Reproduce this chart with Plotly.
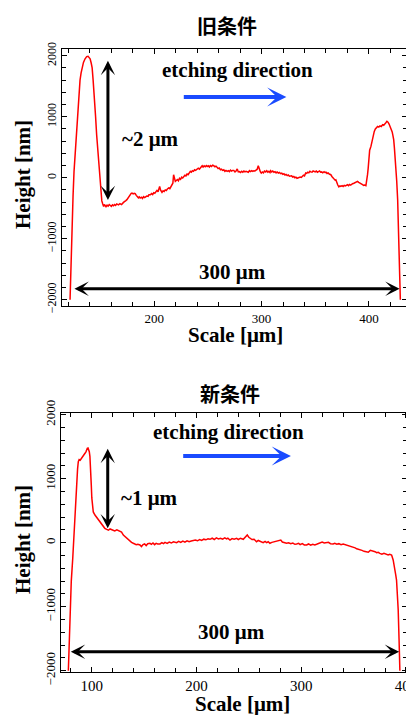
import plotly.graph_objects as go

# ---------------- data ----------------
old_x = [121.5, 122.2, 122.9, 123.4, 124.3, 125.2, 126.2, 127.1, 128.5, 129.4, 130.8, 131.8, 132.7, 134, 135.5, 137, 138.3,
         139.3, 140.2, 141.2, 142.1, 143, 144.4, 145.3, 146.3, 147.1, 147.9, 148.7, 149.5, 150.3, 151.1, 152, 152.8, 153.5,
         154.2, 155, 156, 157, 158, 158.9, 160, 161, 162, 163, 164, 165, 166.6, 168, 169.5, 171.3, 172.5, 173.5, 174.5,
         175.5, 176.5, 177.5, 178.5, 179.2, 180.3, 181.2, 182.2, 183.2, 184.2, 185.2, 186, 186.9, 188, 189, 190, 191,
         191.6, 193, 194.2, 195, 196.3, 197.5, 198.5, 199.5, 200.5, 201.5, 202.5, 203.5, 204.3, 205, 205.8, 206.5, 207.2,
         208.2, 209.2, 210.2, 211.2, 212.2, 213.4, 214.5, 215.5, 216.5, 217.3, 218, 218.8, 219.6, 220.5, 221.5, 222.5,
         223.5, 224.5, 225.5, 226.5, 227.4, 228.5, 229.5, 230.5, 231.5, 232.5, 233.6, 234.5, 235.5, 236.5, 237.5, 238.5,
         239.9, 241, 242, 243, 244, 244.6, 245.5, 246.5, 247.5, 248.5, 249.3, 250.3, 251.3, 252.3, 253.3, 254.4, 255.4,
         256.5, 257.5, 258.5, 259.5, 260.5, 261.7, 262.7, 263.7, 264.8, 265.8, 266.8, 267.9, 269, 270, 271, 272, 273,
         274.1, 275.2, 276.2, 277.3, 278.3, 279.3, 280.3, 281.5, 282.5, 283.5, 284.5, 285.5, 286.6, 287.6, 288.7, 289.7,
         290.8, 291.8, 292.8, 293.8, 294.8, 295.8, 296.9, 297.9, 298.9, 299.7, 300.7, 301.7, 302.7, 303.8, 304.8, 305.8,
         306.8, 307.8, 308.4, 309.4, 310.4, 311.5, 312.5, 313.5, 314.5, 315.6, 316.6, 317.8, 318.8, 319.8, 320.8, 321.8,
         322.8, 323.9, 324.9, 325.9, 327.1, 328, 329, 330, 331, 332, 333, 334, 334.9, 336, 337, 338, 339, 340, 341.1,
         342, 343, 344, 345, 346, 347, 348, 348.9, 350, 351, 352, 353, 354, 355, 356, 357, 358.2, 359, 360, 361, 362,
         363, 364.5, 365.5, 366.5, 367.5, 368.5, 369.2, 370.2, 371, 372, 373, 373.8, 375, 376, 377, 378, 379, 380.1,
         381, 382, 383, 384, 384.8, 386, 387, 388, 389.4, 390.5, 391.5, 392.5, 393.5, 394.1, 395, 396, 397.2, 398,
         398.7, 399.3, 400, 400.7, 401.9, 403, 404, 405, 406, 407, 408.1, 409.2, 410.3, 411.5, 412.8, 413.8, 414.8,
         415.8, 416.8, 417.8, 418.8, 419.9, 420.9, 421.7, 422.4, 423.1, 423.8, 424.5, 425.2, 425.9, 426.8, 427.4, 428,
         428.6, 429.3]
old_y = [-2000, -1500, -1000, -800, -300, 100, 400, 600, 1000, 1300, 1600, 1720, 1800, 1890, 1950, 1985, 1990,
         1975, 1950, 1880, 1800, 1600, 1300, 1000, 700, 500, 300, 100, -100, -250, -380, -430, -470, -440,
         -460, -475, -450, -465, -440, -455, -470, -445, -460, -440, -455, -430, -445, -425, -440, -405, -395, -375, -360,
         -330, -300, -280, -255, -251, -265, -255, -262, -290, -310, -330, -315, -333, -320, -340, -310, -325,
         -317, -300, -305, -280, -279, -260, -275, -245, -255, -225, -208, -230, -180, -142, -200, -225, -240,
         -215, -225, -200, -210, -185, -169, -180, -150, -130, -90, 49, -40, -60, -45, -30, -50,
         -10, -25, 10, -5, 21, 40, 30, 60, 50, 85, 103, 90, 115, 105, 130, 120,
         143, 155, 140, 170, 185, 197, 175, 195, 180, 200, 185, 195, 175, 200, 185, 205, 197,
         180, 190, 165, 150, 160, 131, 140, 120, 130, 105, 120, 103, 115, 100, 125, 110, 120,
         120, 95, 110, 143, 95, 100, 85, 105, 90, 110, 95, 105, 103, 90, 115, 100,
         115, 105, 115, 110, 125, 135, 197, 120, 95, 77, 95, 80, 110, 95, 115, 90,
         105, 85, 115, 95, 110, 90, 100, 80, 95, 75, 85, 66, 75, 55, 65, 45,
         55, 35, 45, 25, 21, 30, 10, 20, 0, 10, -10, 0, -5, 10, 5, 25, 40, 30, 77,
         70, 90, 80, 105, 95, 90, 110, 103, 95, 110, 90, 100, 110, 90, 95, 80, 98, 85, 90, 70, 80,
         60, 49, 20, 0, -20, -40, -33, -90, -120, -150, -135, -142, -130, -145, -125, -135, -120, -115,
         -130, -110, -120, -100, -98, -90, -80, -70, -60, -75, -90, -100, -110, -115, -125, -120, -131, -60,
         50, 150, 330, 450, 513, 620, 700, 759, 800, 820, 841, 830, 850, 840, 869, 860, 890,
         900, 923, 910, 880, 841, 800, 750, 690, 623, 480, 320, 131, -50, -361, -700, -1000,
         -1400, -2000]

new_x = [77.7, 78.5, 79.3, 80.5, 81.9, 83, 84.1, 85, 85.7, 86.5, 87.2, 88, 89, 90.5, 91.5, 92.5, 93.6, 94.5, 95.2,
         95.8, 96.5, 97.2, 97.7, 98.3, 99, 99.6, 100.1, 100.6, 101.5, 103.1, 104.5, 106.3, 108, 109.5, 111, 112.5,
         114.3, 116, 117.5, 119, 120.6, 122, 124, 125.5, 127, 128.5, 130.2, 131.8, 133.4, 135, 136.5, 138, 139.7,
         141, 142.5, 144, 146.1, 147.5, 149, 150.5, 152, 153.5, 155.6, 157, 158.5, 160, 161.5, 163, 165.2, 167,
         168.5, 170, 172, 174, 176, 178, 180, 181.1, 183, 185, 187, 189, 191, 193, 195, 196.9, 199, 201, 203, 205,
         207, 209, 211, 212.9, 215, 217, 219, 221, 223, 225, 227, 228.8, 230, 232, 234, 236, 238.4, 240, 242,
         244.7, 246.5, 248.5, 250, 251, 253, 255, 257.4, 259, 261, 263.7, 265.5, 267, 268.5, 270.1, 272, 274, 276,
         278, 279, 280.5, 282, 284, 286, 288, 290, 292, 294, 295.6, 297.5, 299, 301, 303, 305.2, 307, 309, 311,
         313, 314.7, 316.5, 318.5, 320, 322, 324.2, 326, 328, 330.5, 332, 334, 336, 338, 340.1, 342, 344, 346, 348,
         349.6, 351.5, 353, 354.5, 356, 358, 360, 362.4, 364, 366, 368.7, 370.5, 372, 373.5, 375.1, 377, 379,
         381.5, 383, 384.5, 386.3, 387.8, 388.7, 389.4, 390.2, 391, 391.8, 392.6, 393.4, 394.2]
new_y = [-2000, -1500, -1000, -600, -244, 150, 459, 750, 980, 1150, 1266, 1300, 1290, 1319, 1340, 1370, 1397, 1420, 1460,
         1475, 1480, 1455, 1422, 1350, 1188, 900, 700, 563, 480, 433, 400, 355, 320, 277, 250, 225,
         209, 195, 215, 205, 198, 185, 200, 190, 183, 165, 120, 95, 69, 40, 25, 5, -9,
         -20, -30, -25, -36, -60, -30, -20, -45, -15, -9, -25, -5, -30, -10, -20, -20, 0,
         -15, 5, -10, 10, -5, 15, 0, 0, 20, 5, 25, 10, 30, 15, 25, 27, 40, 30, 50, 35,
         55, 45, 60, 53, 70, 50, 75, 60, 70, 55, 75, 58, 70, 42, 65, 55, 69, 50, 70,
         53, 80, 120, 85, 69, 50, 55, 16, 35, 15, 0, 20, 0, 15, -9, 5, 15, 20,
         30, 31, 40, 10, 5, -9, 0, -15, -5, -25, -20, -10, -30, -15, -35, -36, -20, -40, -25,
         -35, -25, -10, 0, 10, -5, 0, 5, -15, -20, -10, -25, -15, -30, -20, -30, -35, -40, -55,
         -63, -80, -95, -100, -114, -120, -135, -141, -150, -120, -125, -140, -155, -150, -166, -180, -165,
         -177, -190, -180, -192, -270, -340, -427, -500, -583, -800, -1050, -1500, -2000]

titles = ["旧条件", "新条件"]
x_title = "Scale [μm]"
y_title = "Height [nm]"
step_labels = ["~2 μm", "~1 μm"]
width_label = "300 μm"
dir_label = "etching direction"

# ---------------- layout helpers ----------------
W, H = 414, 715
PAGE_OFFSET = 8  # the page body margin shifts the figure by this much on screen


def px(sx):
    """screen x pixel -> paper fraction"""
    return (sx - PAGE_OFFSET) / W


def py(sy):
    """screen y pixel -> paper fraction"""
    return 1 - (sy - PAGE_OFFSET) / H


RED = "#FF0000"
BLUE = "#1A4BFF"
SERIF = "Liberation Serif"

fig = go.Figure()
fig.add_trace(go.Scatter(x=old_x, y=old_y, mode="lines", line=dict(color=RED, width=1.5),
                         xaxis="x", yaxis="y", showlegend=False, hoverinfo="skip"))
fig.add_trace(go.Scatter(x=new_x, y=new_y, mode="lines", line=dict(color=RED, width=1.5),
                         xaxis="x2", yaxis="y2", showlegend=False, hoverinfo="skip"))


def axis_common(size):
    return dict(showline=True, linecolor="black", linewidth=1, mirror="allticks",
                ticks="inside", ticklen=5, tickwidth=1, tickcolor="black",
                showgrid=False, zeroline=False, automargin=False,
                tickfont=dict(family=SERIF, size=size, color="black"))


xa = axis_common(13)
xa.update(domain=[px(62), px(407)], range=[114, 435.5], tick0=0, dtick=100, anchor="y",
          minor=dict(dtick=20, ticks="inside", ticklen=4, tickcolor="black", showgrid=False))
ya = axis_common(12)
ya.update(domain=[py(306), py(49)], range=[-2103, 2110], tick0=0, dtick=1000, anchor="x", tickangle=-90,
          minor=dict(dtick=200, ticks="inside", ticklen=4, tickcolor="black", showgrid=False))
xa2 = axis_common(15)
xa2.update(domain=[px(60.7), px(407)], range=[70.4, 401], tick0=0, dtick=100, anchor="y2",
           minor=dict(dtick=20, ticks="inside", ticklen=4, tickcolor="black", showgrid=False))
ya2 = axis_common(13)
ya2.update(domain=[py(672.3), py(413.3)], range=[-2025, 2022], tick0=0, dtick=1000, anchor="x2", tickangle=-90,
           minor=dict(dtick=200, ticks="inside", ticklen=4, tickcolor="black", showgrid=False))

ann = []
bold = dict(family=SERIF, size=21, color="black")
cjk = dict(family="Noto Sans CJK JP", size=20, color="black")


def ptext(sx, sy, text, font, angle=0):
    return dict(xref="paper", yref="paper", x=px(sx), y=py(sy), xanchor="center", yanchor="middle",
                text=text, showarrow=False, font=font, textangle=angle)


def dtext(xr, yr, x, y, text):
    return dict(xref=xr, yref=yr, x=x, y=y, xanchor="center", yanchor="middle",
                text="<b>%s</b>" % text, showarrow=False, font=bold)


def arrow(xr, yr, x0, y0, x1, y1, color, width, double):
    d = dict(xref=xr, yref=yr, axref=xr, ayref=yr, x=x1, y=y1, ax=x0, ay=y0, text="",
             showarrow=True, arrowhead=3, arrowsize=0.8, arrowwidth=width, arrowcolor=color)
    if double:
        d.update(startarrowhead=3, startarrowsize=0.8, arrowside="end+start")
    return d


# titles & axis titles
ann.append(ptext(227, 25, "<b>%s</b>" % titles[0], cjk))
ann.append(ptext(230, 393, "<b>%s</b>" % titles[1], cjk))
ann.append(ptext(235, 335, "<b>%s</b>" % x_title, bold))
ann.append(ptext(242.5, 704, "<b>%s</b>" % x_title, bold))
ann.append(ptext(23, 175, "<b>%s</b>" % y_title, bold, -90))
ann.append(ptext(23, 540, "<b>%s</b>" % y_title, bold, -90))

# top panel annotations (data coordinates)
ann.append(dtext("x", "y", 277.4, 1766, dir_label))
ann.append(dtext("x", "y", 196.3, 636, step_labels[0]))
ann.append(dtext("x", "y", 272.8, -1546, width_label))
ann.append(arrow("x", "y", 226.1, 1323, 323.1, 1323, BLUE, 4, False))
ann.append(arrow("x", "y", 156.8, 1941, 156.8, -366, "black", 3, True))
ann.append(arrow("x", "y", 124.2, -1820, 428.6, -1820, "black", 3, True))

# bottom panel annotations
ann.append(dtext("x2", "y2", 231, 1734, dir_label))
ann.append(dtext("x2", "y2", 155.6, 694, step_labels[1]))
ann.append(dtext("x2", "y2", 233.9, -1391, width_label))
ann.append(arrow("x2", "y2", 185.9, 1355, 290.2, 1355, BLUE, 4, False))
ann.append(arrow("x2", "y2", 115.3, 1491, 115.3, 225, "black", 3, True))
ann.append(arrow("x2", "y2", 78.6, -1703, 393.5, -1703, "black", 3, True))

fig.update_layout(width=W, height=H, margin=dict(l=0, r=0, t=0, b=0),
                  paper_bgcolor="white", plot_bgcolor="white",
                  xaxis=xa, yaxis=ya, xaxis2=xa2, yaxis2=ya2, annotations=ann, showlegend=False)

fig.write_html("out.html")
